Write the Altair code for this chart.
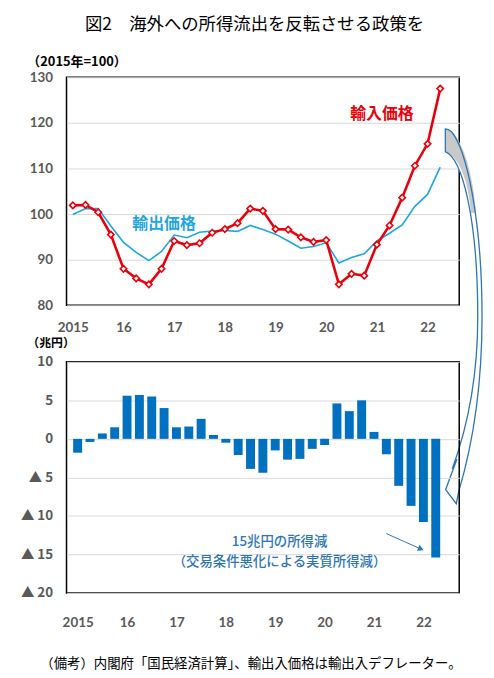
import json
import altair as alt
import pandas as pd

# ---- data (quarterly, 2015Q1 .. 2022Q2) ----
year_labels = ["2015", "16", "17", "18", "19", "20", "21", "22"]
import_price = [101.9, 102.0, 100.4, 95.5, 88.0, 85.9, 84.6, 88.0,
                94.1, 93.2, 93.6, 95.9, 96.7, 98.0, 101.2, 100.7,
                96.7, 96.6, 94.9, 93.9, 94.3, 84.6, 86.9, 86.5,
                93.3, 97.5, 103.6, 110.6, 115.4, 127.5]
export_price = [99.9, 101.2, 101.2, 97.4, 93.8, 91.6, 89.8, 91.8,
                95.4, 94.8, 96.0, 96.3, 96.4, 96.2, 97.5, 96.6,
                95.6, 94.1, 92.5, 92.9, 93.7, 89.3, 90.5, 91.3,
                94.1, 95.8, 97.6, 101.7, 104.3, 110.3]
income_change = [-1.8, -0.4, 0.7, 1.5, 5.6, 5.7, 5.5, 4.0,
                 1.5, 1.6, 2.6, 0.5, -0.5, -2.1, -3.9, -4.4,
                 -1.5, -2.7, -2.6, -1.3, -0.8, 4.6, 3.6, 5.0,
                 0.9, -2.0, -6.1, -8.7, -10.8, -15.4]

title_text = "図2　海外への所得流出を反転させる政策を"
top_unit = "（2015年=100）"
bottom_unit = "（兆円）"
import_label = "輸入価格"
export_label = "輸出価格"
note_line1 = "15兆円の所得減"
note_line2 = "（交易条件悪化による実質所得減）"
footnote = "（備考）内閣府「国民経済計算」、輸出入価格は輸出入デフレーター。"

# label anchor positions in data space (quarter index, value)
import_label_pos = (24.4, 122.0)
export_label_pos = (7.2, 97.8)
note_pos = (16.35, -13.45)
note_arrow = (25.0, -12.3, 27.8, -14.3)

n = len(import_price)
q = list(range(n))
top_df = pd.DataFrame({"q": q, "imp": import_price, "exp": export_price})
bot_df = pd.DataFrame({"q": q, "inc": income_change})

JP = "Noto Sans CJK JP"
NUM = "Lato"
RED = "#e8000b"
LBLUE = "#1ea6de"
BLUE = "#0070c0"
ARROW = "#2e75b6"

W, H1, H2 = 396, 230, 233

label_expr = json.dumps(year_labels) + "[datum.value / 4]"
x_scale = alt.Scale(domain=[-0.5, n + 0.5], nice=False, zero=False)


def make_x_axis(pad):
    return alt.Axis(values=list(range(0, n, 4)), labelExpr=label_expr,
                    title=None, grid=False, ticks=False, domain=False,
                    labelPadding=pad)


x_axis_top = make_x_axis(15)
x_axis_bot = make_x_axis(23)


def x_top(field="q"):
    return alt.X(f"{field}:Q", scale=x_scale, axis=x_axis_top)


def x_bot(field="q"):
    return alt.X(f"{field}:Q", scale=x_scale, axis=x_axis_bot)


y_top_axis = alt.Axis(values=[80, 90, 100, 110, 120, 130], title=top_unit,
                      titleAngle=0, titleAlign="left", titleBaseline="alphabetic",
                      titleX=-40, titleY=-12, titleFont=JP, titleFontSize=13,
                      titleFontWeight="bold", titleColor="black",
                      ticks=False, domain=False, labelPadding=14)
y_top_scale = alt.Scale(domain=[80, 130], nice=False, zero=False)


def y_top(field):
    return alt.Y(f"{field}:Q", scale=y_top_scale, axis=y_top_axis)


base_top = alt.Chart(top_df)
exp_line = base_top.mark_line(color=LBLUE, strokeWidth=1.6).encode(
    x=x_top(), y=y_top("exp"))
imp_line = base_top.mark_line(color=RED, strokeWidth=2.6).encode(
    x=x_top(), y=y_top("imp"))
imp_pts = base_top.mark_point(shape="diamond", size=42, filled=True, fill="white",
                              stroke=RED, strokeWidth=1.6, opacity=1).encode(
    x=x_top(), y=y_top("imp"))

lab_df = pd.DataFrame({"q": [import_label_pos[0], export_label_pos[0]],
                       "v": [import_label_pos[1], export_label_pos[1]],
                       "t": [import_label, export_label],
                       "c": [RED, LBLUE]})
labels = alt.Chart(lab_df).mark_text(font=JP, fontSize=16, fontWeight="bold").encode(
    x=x_top(), y=y_top("v"), text="t:N", color=alt.Color("c:N", scale=None))

# big curved arrow (decoration) drawn as a custom symbol path, 1 unit = 1 px
arrow_path = ("M0,0 Q3,0 6,2.7 C21,20 37,90 37,190 C37,260 27,320 13.7,365 "
              "L11,378 L0.3,364 L11.7,333 L7,343 C19,310 32.7,260 32.7,190 "
              "C32.7,90 17,30 0,23 Z")
tail_path = "M0,0 Q3,0 6,2.7 C18,13 28,45 31,85 L26,85 C23,50 13,28 0,23 Z"
anchor = pd.DataFrame({"a": [0]})
arrow_fill = alt.Chart(anchor).mark_point(shape=arrow_path, size=4, filled=True,
                                          fill="white", strokeWidth=0, opacity=1).encode(
    x=alt.value(382), y=alt.value(52))
arrow_tail = alt.Chart(anchor).mark_point(shape=tail_path, size=4, filled=True,
                                          fill="#c9c9c9", strokeWidth=0, opacity=1).encode(
    x=alt.value(382), y=alt.value(52))
arrow_line = alt.Chart(anchor).mark_point(shape=arrow_path, size=4, filled=False,
                                          stroke=ARROW, strokeWidth=1.3, opacity=1).encode(
    x=alt.value(382), y=alt.value(52))

top = alt.layer(exp_line, imp_line, imp_pts, labels, arrow_fill, arrow_tail,
                arrow_line).properties(width=W, height=H1)

# ---- bottom chart ----
y_bot_scale = alt.Scale(domain=[-20, 10], nice=False, zero=False)
y_bot_axis = alt.Axis(values=[-20, -15, -10, -5, 0, 5, 10], title=bottom_unit,
                      labelExpr="datum.value < 0 ? '▲ ' + (-datum.value) : '' + datum.value",
                      labelFont=JP, labelFontSize=13.5,
                      titleAngle=0, titleAlign="left", titleBaseline="alphabetic",
                      titleX=-40, titleY=-15, titleFont=JP, titleFontSize=12,
                      titleFontWeight="bold", titleColor="black",
                      ticks=False, domain=False, labelPadding=14)


def y_bot(field):
    return alt.Y(f"{field}:Q", scale=y_bot_scale, axis=y_bot_axis)


bars = alt.Chart(bot_df).mark_bar(color=BLUE, size=9).encode(
    x=x_bot(), y=y_bot("inc"))

note_df = pd.DataFrame({"q": [note_pos[0]], "v": [note_pos[1]],
                        "t": [note_line1 + "\n" + note_line2]})
notes = alt.Chart(note_df).mark_text(font=JP, fontSize=13.5, color=ARROW,
                                     fontWeight=500, lineBreak="\n",
                                     lineHeight=19.5).encode(
    x=x_bot(), y=y_bot("v"), text="t:N")

arr_df = pd.DataFrame({"q": [note_arrow[0]], "v": [note_arrow[1]],
                       "q2": [note_arrow[2]], "v2": [note_arrow[3]]})
arr_rule = alt.Chart(arr_df).mark_rule(color=ARROW, strokeWidth=1).encode(
    x=x_bot(), y=y_bot("v"), x2="q2:Q", y2="v2:Q")
arr_head = alt.Chart(arr_df).mark_point(shape="triangle-right", size=45, filled=True,
                                        color=ARROW, angle=24, opacity=1).encode(
    x=x_bot("q2"), y=y_bot("v2"))

foot_df = pd.DataFrame({"q": [note_pos[0]], "t": [footnote]})
foot = alt.Chart(foot_df).mark_text(
    font=JP, fontSize=13.5, color="black", align="center").encode(
    x=alt.value(186), y=alt.value(H2 + 72), text="t:N")

bottom = alt.layer(bars, notes, arr_rule, arr_head, foot).properties(width=W, height=H2)

chart = alt.vconcat(top, bottom, spacing=57, bounds="flush").properties(
    title=alt.TitleParams(title_text, font=JP, fontSize=17.5, fontWeight="normal",
                          color="black", anchor="middle", offset=21, dx=2),
    padding={"left": 11, "top": 5, "right": 0, "bottom": 0}
).configure_view(stroke="black", strokeWidth=1.5).configure_axis(
    labelFont=NUM, labelFontSize=13.5, labelFontWeight="bold", labelColor="#595959",
    gridColor="#d9d9d9", gridWidth=1
)

chart.save("out.html", embed_options={"renderer": "svg", "actions": False})
